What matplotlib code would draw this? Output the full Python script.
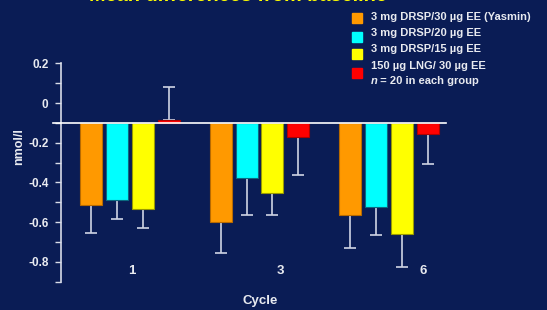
import numpy as np
import matplotlib
matplotlib.use("Agg")
import matplotlib.pyplot as plt
from matplotlib.patches import Rectangle

plt.rcParams['font.family'] = ['Liberation Sans', 'DejaVu Sans']

cycles = ['1', '3', '6']
groups = ['3 mg DRSP/30 µg EE (Yasmin)', '3 mg DRSP/20 µg EE',
          '3 mg DRSP/15 µg EE', '150 µg LNG/ 30 µg EE']
colors = ['#ff9900', '#00ffff', '#ffff00', '#ff0000']
edges = ['#b86a00', '#0a6a80', '#9a9a00', '#b00000']

# bar ends (bars hang from the line at -0.1)
base = -0.1
yasmin = [-0.514, -0.598, -0.564]
drsp20 = [-0.490, -0.376, -0.522]
drsp15 = [-0.536, -0.452, -0.660]
lng = [-0.084, -0.171, -0.156]
values = [yasmin, drsp20, drsp15, lng]
# error bar lengths
err_yasmin = [0.142, 0.158, 0.165]
err_drsp20 = [0.096, 0.188, 0.143]
err_drsp15 = [0.092, 0.111, 0.168]
err_lng = [0.163, 0.192, 0.153]
errs = [err_yasmin, err_drsp20, err_drsp15, err_lng]

bg = '#0a1c55'
fig = plt.figure(figsize=(5.47, 3.10), dpi=100, facecolor=bg)
ax = fig.add_axes([61/547, 28.3/310, 385/547, 218.4/310], facecolor=bg)

x = np.arange(len(cycles))
offs = [-0.3, -0.1, 0.1, 0.3]
for i in range(4):
    v = np.array(values[i])
    h = v - base
    ax.bar(x + offs[i], h, width=0.17, bottom=base, color=colors[i],
           edgecolor=edges[i], linewidth=0.8, zorder=2)
    e = np.array(errs[i])
    lower = np.where(h < 0, e, 0)
    upper = np.where(h >= 0, e, 0)
    ax.errorbar(x + offs[i], v, yerr=[lower, upper], fmt='none',
                ecolor='#d0d4e4', elinewidth=1.2, capsize=4.3, capthick=1.2,
                zorder=1)

ax.plot([-0.595, 2.44], [base, base], color='white', lw=1.2, clip_on=False, zorder=3)

ax.set_xlim(-0.533, 2.44)
ax.set_ylim(-0.9, 0.2)
ax.set_yticks([0.2, 0, -0.2, -0.4, -0.6, -0.8])
ax.set_yticklabels(['0.2', '0', '-0.2', '-0.4', '-0.6', '-0.8'])
ax.set_yticks(np.arange(-0.9, 0.21, 0.1), minor=True)
ax.tick_params(axis='y', which='both', colors='#d8dce8', length=4, width=1,
               labelsize=8.5, labelcolor='#e8eaf0', pad=5)
for t in ax.get_yticklabels():
    t.set_fontweight('bold')

tick_pos = [0.013, 1.164, 2.26]
ax.set_xticks(tick_pos)
ax.set_xticklabels(cycles, fontsize=9.5, fontweight='bold', color='#e8eaf0')
ax.tick_params(axis='x', length=0, pad=-12)

for s in ['top', 'right', 'bottom']:
    ax.spines[s].set_visible(False)
ax.spines['left'].set_color('#d8dce8')
ax.spines['left'].set_linewidth(1.2)

fig.text(19/547, 1 - 146.7/310, 'nmol/l', rotation=90, ha='center', va='center',
         fontsize=9, fontweight='bold', color='#e8eaf0')
fig.text(260/547, 1 - 300.7/310, 'Cycle', ha='center', va='center',
         fontsize=9.5, fontweight='bold', color='#e8eaf0')
fig.text(238/547, 1 - 1/310, 'Mean differences from baseline', ha='center',
         va='baseline', fontsize=14.3, fontweight='bold', color='#ffff00')

# legend
row_y = [17.3, 33.3, 49.3, 65.7]
sq_y = [18, 36.5, 54, 73]
for i in range(4):
    fig.patches.append(Rectangle((352/547, 1 - (sq_y[i] + 5)/310), 10/547, 10/310,
                                 transform=fig.transFigure, color=colors[i]))
    fig.text(370.7/547, 1 - row_y[i]/310, groups[i], ha='left', va='center',
             fontsize=8, fontweight='bold', color='#e8eaf0')
fig.text(370.7/547, 1 - 80.7/310, 'n', ha='left', va='center', fontsize=8,
         fontweight='bold', fontstyle='italic', color='#e8eaf0')
fig.text(377.5/547, 1 - 80.7/310, ' = 20 in each group', ha='left', va='center',
         fontsize=8, fontweight='bold', color='#e8eaf0')

fig.savefig('out.png', dpi=100, facecolor=bg)
